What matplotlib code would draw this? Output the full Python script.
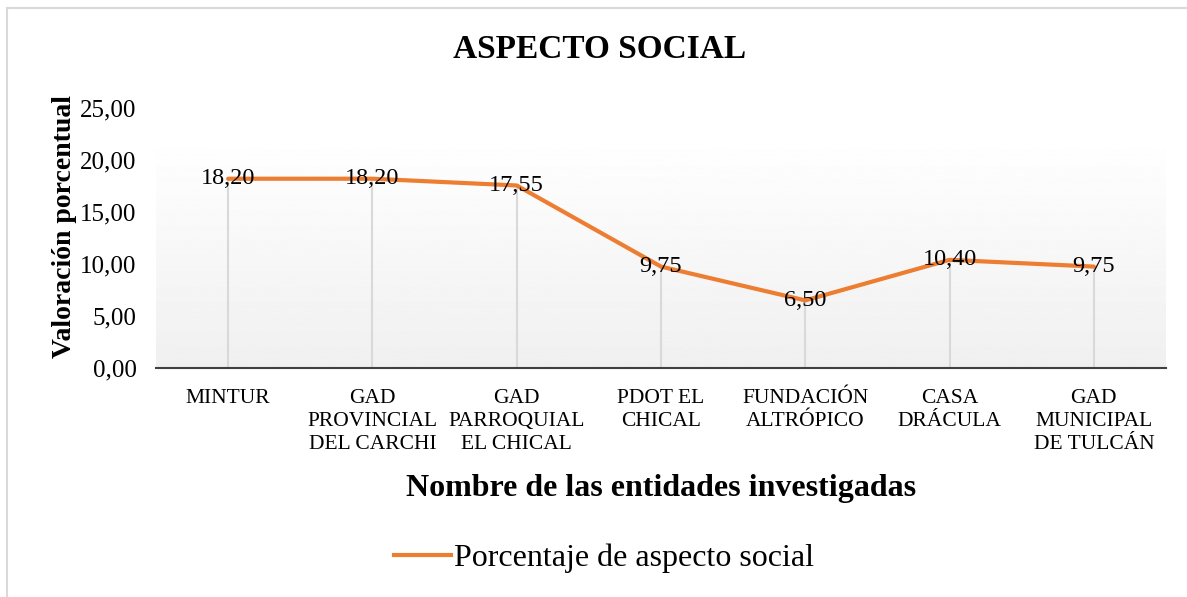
import numpy as np
import matplotlib
matplotlib.use("Agg")
import matplotlib.pyplot as plt
from matplotlib.lines import Line2D

categorias = ["MINTUR", "GAD\nPROVINCIAL\nDEL CARCHI", "GAD\nPARROQUIAL\nEL CHICAL",
              "PDOT EL\nCHICAL", "FUNDACIÓN\nALTRÓPICO", "CASA\nDRÁCULA",
              "GAD\nMUNICIPAL\nDE TULCÁN"]
valores = [18.20, 18.20, 17.55, 9.75, 6.50, 10.40, 9.75]
etiquetas = ["18,20", "18,20", "17,55", "9,75", "6,50", "10,40", "9,75"]
yticks = [0, 5, 10, 15, 20, 25]
yticklabels = ["0,00", "5,00", "10,00", "15,00", "20,00", "25,00"]

plt.rcParams['font.family'] = ['Liberation Serif', 'DejaVu Serif']

W, H = 1187, 597
fig = plt.figure(figsize=(W / 100, H / 100), dpi=100)
ax = fig.add_axes([156 / W, 1 - 368 / H, (1166 - 156) / W, (368 - 108) / H])

x = np.arange(len(categorias))
ax.set_xlim(-0.5, len(categorias) - 0.5)
ax.set_ylim(0, 25)

# fondo degradado del area de trazado
grad = np.linspace(0.94, 1.0, 256).reshape(-1, 1)
ax.imshow(grad, extent=[0, 1, 0, 0.9], transform=ax.transAxes, cmap="gray",
          vmin=0, vmax=1, aspect="auto", origin="lower", zorder=0)

ax.vlines(x, 0, valores, color="#d9d9d9", lw=1.5, zorder=1)
ax.plot(x, valores, color="#ED7D31", lw=3, solid_capstyle="round", zorder=2)
for xi, v, t in zip(x, valores, etiquetas):
    ax.text(xi, v, t, ha="center", va="center", fontsize=17.5, zorder=3)

ax.set_xticks(x)
ax.set_xticklabels(categorias, fontsize=15.5, linespacing=1.3)
ax.set_yticks(yticks)
ax.set_yticklabels(yticklabels, fontsize=18)
ax.tick_params(axis="x", length=0, pad=15)
ax.tick_params(axis="y", length=0, pad=14)
for s in ["top", "right", "left"]:
    ax.spines[s].set_visible(False)
ax.spines["bottom"].set_color("#404040")
ax.spines["bottom"].set_linewidth(1.5)

ax.set_ylabel("Valoración porcentual", fontsize=20, fontweight="bold", labelpad=2)
ax.yaxis.label.set_y(0.546)
ax.set_xlabel("Nombre de las entidades investigadas", fontsize=23,
              fontweight="bold", labelpad=14)
fig.text(600 / W, 1 - 49 / H, "ASPECTO SOCIAL", ha="center", va="center",
         fontsize=24, fontweight="bold")

handle = Line2D([], [], color="#ED7D31", lw=3)
fig.legend([handle], ["Porcentaje de aspecto social"], loc="center",
           bbox_to_anchor=(604 / W, 1 - 558 / H), frameon=False, fontsize=23,
           handlelength=1.8, handletextpad=0.1)

# marco exterior
fig.add_artist(Line2D([7 / W, 7 / W], [0, 1 - 8 / H], color="#d9d9d9", lw=1.5))
fig.add_artist(Line2D([7 / W, 1], [1 - 8 / H, 1 - 8 / H], color="#d9d9d9", lw=1.5))

fig.savefig("out.png", dpi=100)
